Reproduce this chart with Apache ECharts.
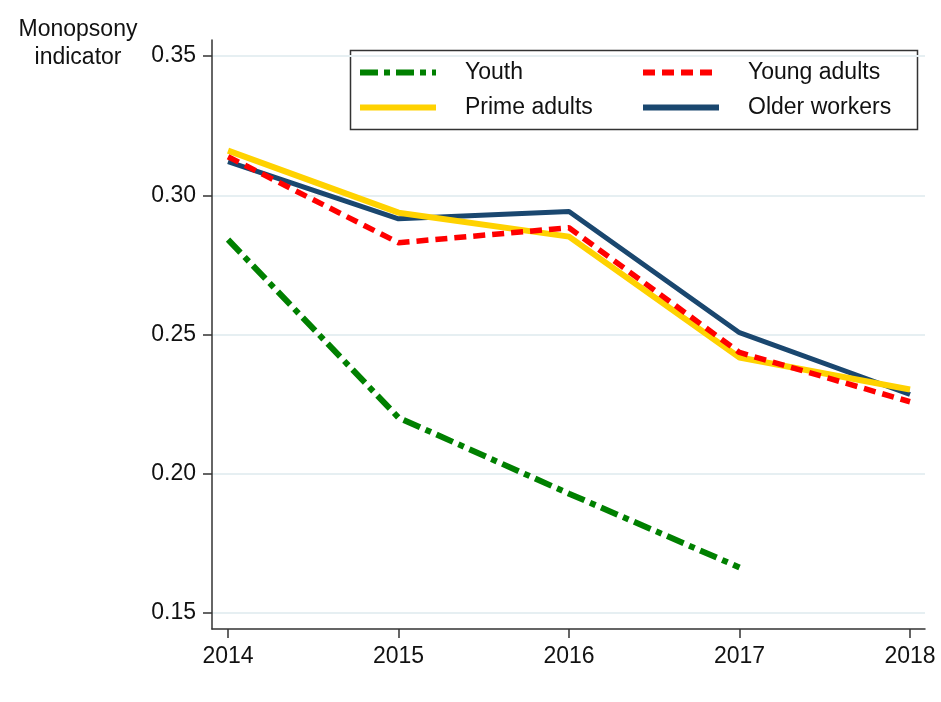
<!DOCTYPE html>
<html>
<head>
<meta charset="utf-8">
<script src="https://cdn.jsdelivr.net/npm/echarts@6/dist/echarts.min.js"></script>
<style>
  html, body { margin: 0; padding: 0; background: #fff; }
  #main { width: 941px; height: 702px; }
</style>
</head>
<body>
<div id="main"></div>
<script>
// data
var years = [2014, 2015, 2016, 2017, 2018];
var yTicks = [0.15, 0.20, 0.25, 0.30, 0.35];
var youth = [0.2841, 0.2202, 0.1929, 0.1664, null];
var youngAdults = [0.3139, 0.2830, 0.2884, 0.2436, 0.2259];
var primeAdults = [0.3161, 0.2938, 0.2852, 0.2418, 0.2303];
var olderWorkers = [0.3121, 0.2916, 0.2942, 0.2507, 0.2285];

function pairs(vals) {
    var out = [];
    for (var i = 0; i < years.length; i++) {
        if (vals[i] != null) out.push([years[i], vals[i]]);
    }
    return out;
}

var font = 'Liberation Sans, Arial, sans-serif';
var txt = '#111';
var myChart = echarts.init(document.getElementById('main'));

var legendBase = {
    orient: 'vertical',
    top: 61,
    padding: 0,
    itemWidth: 76,
    itemHeight: 14,
    itemGap: 12,
    itemStyle: { opacity: 0 },
    lineStyle: { width: 6 },
    textStyle: { fontFamily: font, fontSize: 23, color: txt, padding: [0, 0, 0, 24] }
};

var option = {
    animation: false,
    backgroundColor: '#fff',
    title: {
        text: 'Monopsony\nindicator',
        left: 73,
        top: 11,
        textAlign: 'center',
        textStyle: { fontFamily: font, fontSize: 23, fontWeight: 'normal', color: txt, lineHeight: 28 }
    },
    grid: { left: 212, right: 16, top: 40, bottom: 73 },
    legend: [
        Object.assign({}, legendBase, { left: 357, data: ['Youth', 'Prime adults'] }),
        Object.assign({}, legendBase, { left: 640, data: ['Young adults', 'Older workers'] })
    ],
    graphic: [{
        type: 'rect',
        left: 348,
        top: 48,
        shape: { width: 567, height: 79 },
        style: { fill: 'none', stroke: '#333', lineWidth: 1.5 },
        z: -1
    }],
    xAxis: {
        type: 'value',
        min: 2013.906,
        max: 2018.088,
        splitLine: { show: false },
        axisLine: { lineStyle: { color: '#333', width: 1.5 } },
        axisTick: { length: 9, customValues: years, lineStyle: { color: '#333', width: 1.5 } },
        axisLabel: {
            customValues: years,
            margin: 16,
            fontFamily: font, fontSize: 23, color: txt,
            formatter: function (v) { return String(v); }
        }
    },
    yAxis: {
        type: 'value',
        min: 0.1443,
        max: 0.3558,
        axisLine: { show: true, lineStyle: { color: '#333', width: 1.5 } },
        axisTick: { show: true, length: 9, customValues: yTicks, lineStyle: { color: '#333', width: 1.5 } },
        axisLabel: {
            customValues: yTicks,
            margin: 16,
            fontFamily: font, fontSize: 23, color: txt,
            formatter: function (v) { return v.toFixed(2); }
        },
        splitLine: {
            show: true,
            interval: function (idx, v) { return v < 0.34; },
            lineStyle: { color: '#e6eff2', width: 2 }
        }
    },
    series: [{
        name: 'Older workers',
        type: 'line',
        data: pairs(olderWorkers),
        symbol: 'none',
        color: '#1a476f',
        lineStyle: { width: 5, color: '#1a476f' }
    }, {
        name: 'Prime adults',
        type: 'line',
        data: pairs(primeAdults),
        symbol: 'none',
        color: '#ffd200',
        lineStyle: { width: 6, color: '#ffd200' }
    }, {
        name: 'Young adults',
        type: 'line',
        data: pairs(youngAdults),
        symbol: 'none',
        color: '#ff0000',
        lineStyle: { width: 5.5, color: '#ff0000', type: [12, 7] }
    }, {
        name: 'Youth',
        type: 'line',
        data: pairs(youth),
        symbol: 'none',
        color: '#008000',
        lineStyle: { width: 6, color: '#008000', type: [18, 6, 6, 6] }
    }]
};

myChart.setOption(option);
</script>
</body>
</html>
